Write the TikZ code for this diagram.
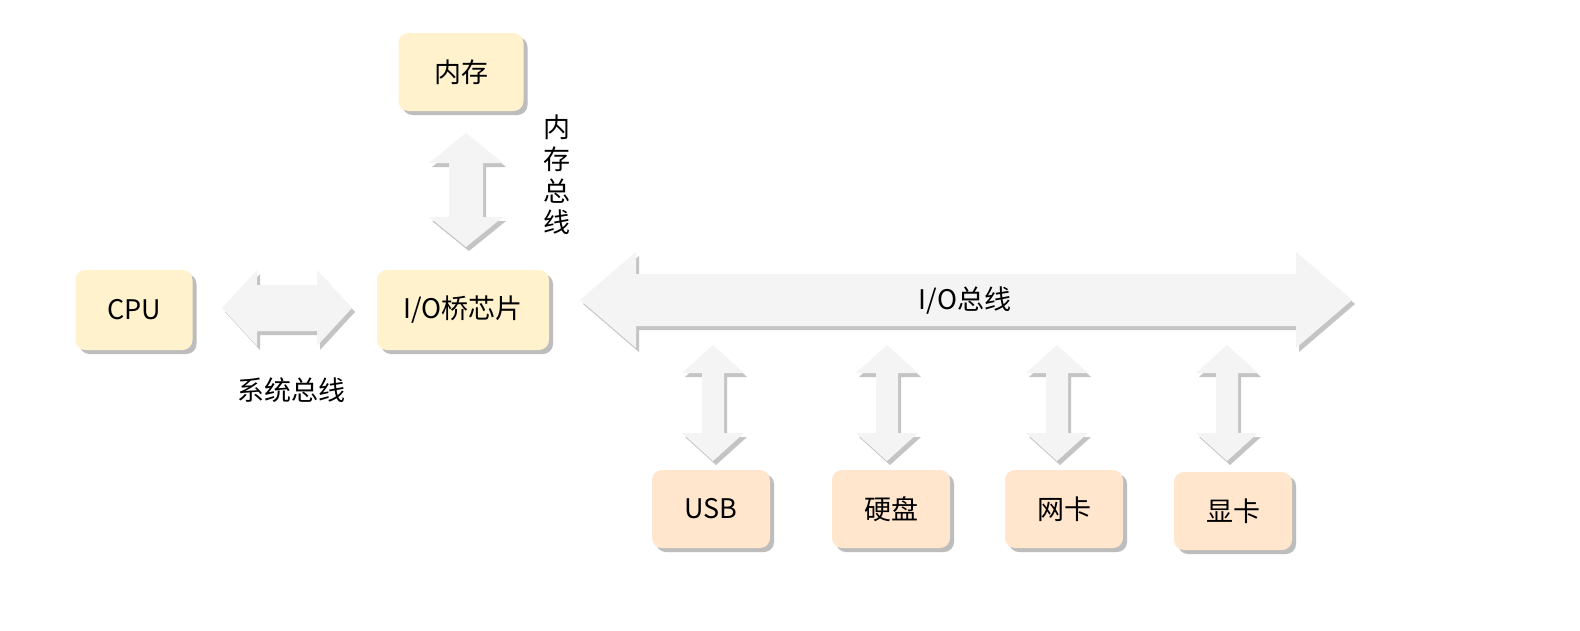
\documentclass[tikz,border=0pt]{standalone}
\usepackage{fontspec}
\setmainfont{Noto Sans CJK SC}
\usetikzlibrary{calc,shadows}
\definecolor{boxY}{HTML}{FFF2CC}
\definecolor{boxP}{HTML}{FFE6CC}
\definecolor{arrF}{HTML}{F4F4F4}
\definecolor{arrS}{HTML}{C4C4C4}
\definecolor{boxS}{HTML}{BDBDBD}
\newcommand{\arrowoutline}[5]{%
 (#1) -- ($(#1)!#5pt!(#2)!#4pt!90:(#2)$) -- ($(#1)!#5pt!(#2)!#3pt!90:(#2)$)
 -- ($(#2)!#5pt!(#1)!#3pt!-90:(#1)$) -- ($(#2)!#5pt!(#1)!#4pt!-90:(#1)$)
 -- (#2) -- ($(#2)!#5pt!(#1)!#4pt!90:(#1)$) -- ($(#2)!#5pt!(#1)!#3pt!90:(#1)$)
 -- ($(#1)!#5pt!(#2)!#3pt!-90:(#2)$) -- ($(#1)!#5pt!(#2)!#4pt!-90:(#2)$) -- cycle}
\newcommand{\busarrow}[5]{%
 \coordinate (#1sh) at ($(#1)+(3,4)$);
 \coordinate (#2sh) at ($(#2)+(3,4)$);
 \fill[arrS] \arrowoutline{#1sh}{#2sh}{#3}{#4}{#5};
 \fill[arrF] \arrowoutline{#1}{#2}{#3}{#4}{#5};}
\tikzset{
  base/.style={rounded corners=10pt, inner sep=0pt, text=black,
    font=\fontsize{27}{31}\selectfont,
    general shadow={fill=boxS, shadow xshift=4pt, shadow yshift=-4pt}},
  mainbox/.style={base, fill=boxY, minimum height=79pt},
  devbox/.style={base, fill=boxP, minimum width=118pt, minimum height=78pt},
  lbl/.style={font=\fontsize{27}{31.7}\selectfont, inner sep=0pt, text=black, align=center}
}
\begin{document}
\begin{tikzpicture}[x=1pt,y=-1pt]
\useasboundingbox[fill=white] (0,0) rectangle (1580,630);
% boxes
\node[mainbox, minimum width=125pt, minimum height=78pt] (mem) at (461,72) {内存};
\node[mainbox, minimum width=117pt, minimum height=80pt] (cpu) at (134,310) {CPU};
\node[mainbox, minimum width=172pt, minimum height=80pt] (io) at (463,310) {I/O桥芯片};
\node[devbox] (usb) at (711,509) {USB};
\node[devbox] (disk) at (891,509) {硬盘};
\node[devbox] (nic) at (1064,509) {网卡};
\node[devbox] (gpu) at (1233,511) {显卡};
% connector end points
\coordinate (mbA) at (466,133);  \coordinate (mbB) at (466,247);
\coordinate (sysA) at (222,308); \coordinate (sysB) at (352,308);
\coordinate (ioA) at (580,300);  \coordinate (ioB) at (1352,300);
\coordinate (uA) at (713,345);   \coordinate (uB) at (713,461);
\coordinate (dA) at (887,345);   \coordinate (dB) at (887,461);
\coordinate (nA) at (1057,345);  \coordinate (nB) at (1057,461);
\coordinate (gA) at (1227,345);  \coordinate (gB) at (1227,461);
% block arrows
\busarrow{mbA}{mbB}{17}{37}{30}
\busarrow{sysA}{sysB}{23}{38}{35}
\busarrow{ioA}{ioB}{26}{48}{56}
\busarrow{uA}{uB}{11}{31}{28}
\busarrow{dA}{dB}{11}{31}{28}
\busarrow{nA}{nB}{11}{31}{28}
\busarrow{gA}{gB}{11}{31}{28}
% labels
\node[lbl] (sysl) at (291,390) {系统总线};
\node[lbl] (mbl) at (557,175) {内\\存\\总\\线};
\node[lbl] (iol) at (965,301) {I/O总线};
\end{tikzpicture}
\end{document}
